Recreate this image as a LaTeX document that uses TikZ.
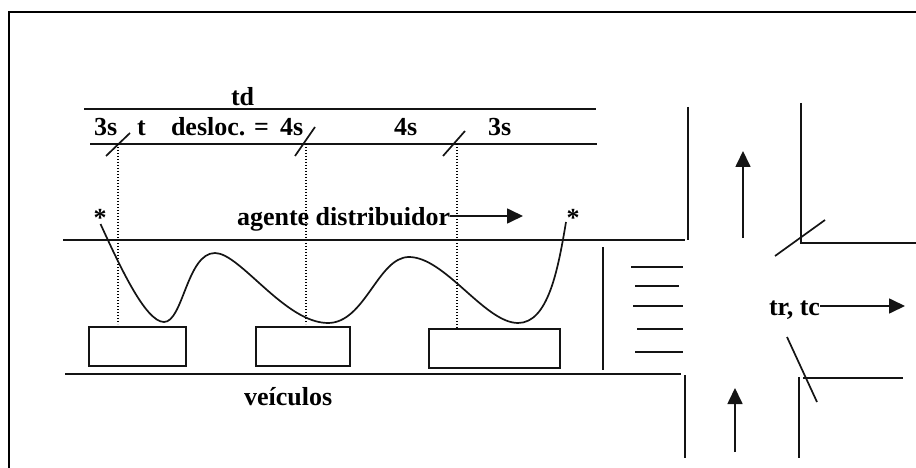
\documentclass[tikz,border=0pt]{standalone}
\usepackage{fontspec}
\setmainfont{Liberation Serif}
\usetikzlibrary{arrows.meta}
\tikzset{
  ln/.style={line width=1.7pt,black!92},
  dot/.style={line width=1.2pt,black,dash pattern=on 1.3pt off 1.7pt},
  arr/.style={ln,-{Triangle[length=16pt,width=15pt]}},
  lbl/.style={font=\bfseries\fontsize{26}{28}\selectfont,anchor=base west,inner sep=0pt,outer sep=0pt},
  car/.style={ln,draw,inner sep=0pt,outer sep=0pt,anchor=north west,minimum height=39pt}
}
\begin{document}
\begin{tikzpicture}[x=1pt,y=-1pt]
\useasboundingbox (0,0) rectangle (916,468);
% frame
\draw[line width=2pt] (9,468) -- (9,12) -- (916,12);
% top lines
\draw[ln] (84,109) -- (596,109);
\draw[ln] (90,144) -- (597,144);
\draw[ln] (106,156) -- (130,133);
\draw[ln] (295,156) -- (315,127);
\draw[ln] (443,156) -- (465,131);
% dotted
\draw[dot] (118,144) -- (118,324);
\draw[dot] (306,144) -- (306,324);
\draw[dot] (457,144) -- (457,328);
% road
\draw[ln] (63,240) -- (685,240);
\draw[ln] (65,374) -- (681,374);
% cars
\node[car,minimum width=97pt] (car1) at (89,327) {};
\node[car,minimum width=94pt] (car2) at (256,327) {};
\node[car,minimum width=131pt] (car3) at (429,329) {};
% path
\draw[ln] (100.5,224) .. controls (118,262) and (145,322) .. (164,322)
  .. controls (183,322) and (187,253) .. (215,253)
  .. controls (240,253) and (285,323) .. (328,323)
  .. controls (365,323) and (378,257) .. (409,257)
  .. controls (445,257) and (485,323) .. (518,323)
  .. controls (548,323) and (558,270) .. (566,222);
% intersection
\draw[ln] (688,107) -- (688,240);
\draw[ln] (801,103) -- (801,243) -- (916,243);
\draw[ln] (775,256) -- (825,220);
\draw[arr] (743,238) -- (743,151);
\draw[ln] (603,247) -- (603,370);
\draw[ln] (631,267) -- (683,267);
\draw[ln] (635,286) -- (679,286);
\draw[ln] (633,306) -- (683,306);
\draw[ln] (637,329) -- (683,329);
\draw[ln] (635,352) -- (683,352);
\draw[ln] (787,337) -- (817,402);
\draw[ln] (803,378) -- (903,378);
\draw[ln] (685,375) -- (685,458);
\draw[ln] (799,377) -- (799,458);
\draw[arr] (735,452) -- (735,388);
% labels
\node[lbl] (td) at (231,106) {td};
\node[lbl] (a) at (94,136) {3s};
\node[lbl] (b) at (137,136) {t};
\node[lbl] (c) at (171,136) {desloc. =};
\node[lbl] (d) at (280,136) {4s};
\node[lbl] (e) at (394,136) {4s};
\node[lbl] (f) at (488,136) {3s};
\node[lbl] (s1) at (93.5,226.5) {*};
\node[lbl] (s2) at (566.5,226.5) {*};
\node[lbl] (ag) at (237,225) {agente distribuidor};
\node[lbl] (ve) at (244,405) {veículos};
\node[lbl] (tr) at (769,315) {tr, tc};
\coordinate (agend) at (523,216);
\coordinate (trend) at (905,306);
\draw[arr] (ag.east |- agend) -- (agend);
\draw[arr] (tr.east |- trend) -- (trend);
\end{tikzpicture}
\end{document}
